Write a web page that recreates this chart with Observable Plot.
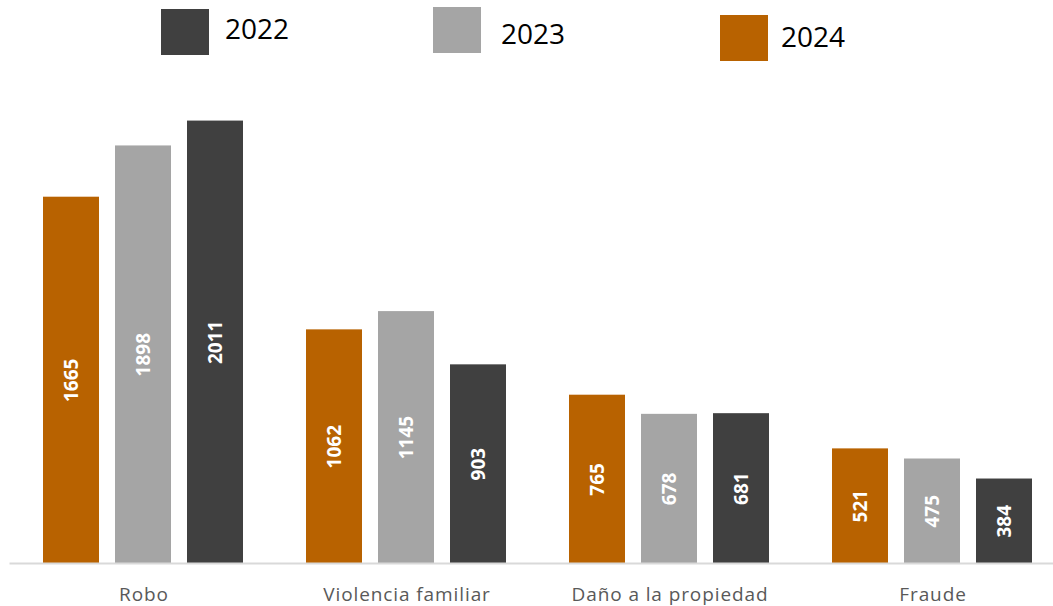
<!DOCTYPE html>
<html>
<head>
<meta charset="utf-8">
<script src="https://cdn.jsdelivr.net/npm/d3@7"></script>
<script src="https://cdn.jsdelivr.net/npm/@observablehq/plot@0.6"></script>
<style>
  html, body { margin: 0; padding: 0; background: #fff; }
  #wrap { position: relative; width: 1053px; height: 606px; font-family: "Open Sans", sans-serif; }
  #chart { position: absolute; left: 0; top: 0; }
  g[aria-label="fx-axis tick label"] text { letter-spacing: 0.9px; }
</style>
</head>
<body>
<div id="wrap">
  <div id="chart"></div>
  <div id="legend"></div>
</div>
<script>
const categories = ["Robo", "Violencia familiar", "Daño a la propiedad", "Fraude"];
const years = ["2024", "2023", "2022"];
const values2024 = [1665, 1062, 765, 521];
const values2023 = [1898, 1145, 678, 475];
const values2022 = [2011, 903, 681, 384];
const legendYears = ["2022", "2023", "2024"];
const yearColors = {"2024": "#B86200", "2023": "#A5A5A5", "2022": "#404040"};

const seriesByYear = {"2024": values2024, "2023": values2023, "2022": values2022};
const data = [];
categories.forEach((c, i) => {
  years.forEach(y => data.push({category: c, year: y, value: seriesByYear[y][i]}));
});

const chart = Plot.plot({
  width: 1053,
  height: 606,
  marginTop: 101,
  marginBottom: 43,
  marginLeft: 10,
  marginRight: 0,
  style: {fontFamily: "'Open Sans', sans-serif", background: "white"},
  fx: {domain: categories, paddingInner: 0.235, paddingOuter: 0.1, align: 0.627, label: null},
  x: {domain: years, paddingInner: 0.222, paddingOuter: 0, axis: null},
  y: {domain: [0, 2100], axis: null},
  color: {domain: years, range: years.map(y => yearColors[y])},
  marks: [
    Plot.barY(data, {fx: "category", x: "year", y: "value", fill: "year"}),
    Plot.frame({facet: "super", anchor: "bottom", stroke: "#D9D9D9", strokeWidth: 2}),
    Plot.text(data, {
      fx: "category", x: "year", y: d => d.value / 2, text: d => String(d.value),
      rotate: -90, fill: "white", fontWeight: "bold", fontSize: 19
    }),
    Plot.axisFx({anchor: "bottom", tickSize: 0, tickPadding: 24, fontSize: 19, fill: "#595959", label: null})
  ]
});
// extend the baseline across the full plot width, as in the reference
chart.querySelectorAll('[aria-label="frame"] line, line[aria-label="frame"]').forEach(l => {
  l.setAttribute("x1", 10);
  l.setAttribute("x2", 1053);
});
document.getElementById("chart").appendChild(chart);

const legendPos = {"2022": [161, 9, 225, 14], "2023": [433, 7, 501, 19], "2024": [720, 15, 781, 22]};
const legend = document.getElementById("legend");
legendYears.forEach(y => {
  const [sx, sy, tx, ty] = legendPos[y];
  const sw = document.createElement("div");
  sw.style.cssText = `position:absolute;left:${sx}px;top:${sy}px;width:48px;height:46px;background:${yearColors[y]}`;
  legend.appendChild(sw);
  const t = document.createElement("div");
  t.style.cssText = `position:absolute;left:${tx}px;top:${ty}px;font-size:28px;line-height:1;color:#000`;
  t.textContent = y;
  legend.appendChild(t);
});
</script>
</body>
</html>
